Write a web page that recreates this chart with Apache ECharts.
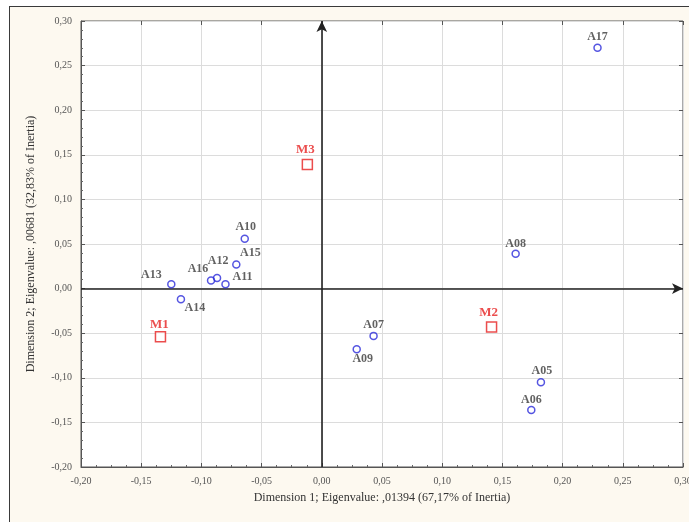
<!DOCTYPE html>
<html><head><meta charset="utf-8">
<script src="https://cdn.jsdelivr.net/npm/echarts@6/dist/echarts.min.js"></script>
<style>
html,body{margin:0;padding:0;background:#fff;width:689px;height:522px;overflow:hidden;}
#frame{position:absolute;left:9px;top:6px;width:700px;height:540px;border:1.5px solid #3a3a3a;background:#fdf9f0;}
#chart{position:absolute;left:0;top:0;width:689px;height:522px;}
</style></head>
<body>
<div id="frame"></div>
<div id="chart"></div>
<script>
// Data
const attrNames = ['A17','A10','A15','A12','A16','A11','A13','A14','A08','A07','A09','A05','A06'];
const attrX =     [0.229,-0.064,-0.071,-0.087,-0.092,-0.080,-0.125,-0.117,0.161,0.043,0.029,0.182,0.174];
const attrY =     [0.270, 0.056, 0.027, 0.012, 0.009, 0.005, 0.005,-0.012,0.039,-0.053,-0.068,-0.105,-0.136];
const sampleNames = ['M1','M2','M3'];
const sampleX =     [-0.134, 0.141, -0.012];
const sampleY =     [-0.054,-0.043, 0.139];
const xTicks = [-0.20,-0.15,-0.10,-0.05,0.00,0.05,0.10,0.15,0.20,0.25,0.30];
const yTicks = [-0.20,-0.15,-0.10,-0.05,0.00,0.05,0.10,0.15,0.20,0.25,0.30];

// label placement (styling, separate from data)
const attrLabelOffset = {
  A17:[0,-11], A10:[1,-12], A15:[14,-12], A12:[1,-17], A16:[-13,-12], A11:[17,-7],
  A13:[-20,-9], A14:[14,9], A08:[0,-10], A07:[0,-11], A09:[6,10], A05:[1,-11], A06:[0,-10]
};
const sampleLabelOffset = { M1:[-1,-12], M2:[-3,-14], M3:[-2,-15] };

const fmt = v => (Math.abs(v) < 1e-9 ? 0 : v).toFixed(2).replace('.', ',');
const serif = 'Liberation Serif';

const chart = echarts.init(document.getElementById('chart'), null, {renderer:'canvas'});

const attrData = attrNames.map((n,i)=>({
  value:[attrX[i], attrY[i]], name:n,
  label:{offset: attrLabelOffset[n]}
}));
const sampleData = sampleNames.map((n,i)=>({
  value:[sampleX[i], sampleY[i]], name:n,
  label:{offset: sampleLabelOffset[n]}
}));

const axisCommon = {
  type:'value', min:xTicks[0], max:xTicks[xTicks.length-1], interval:0.05
};

chart.setOption({
  backgroundColor:'transparent',
  animation:false,
  grid:{left:81, right:6, top:21, bottom:55, outerBoundsMode:'none', containLabel:false,
        show:true, backgroundColor:'#ffffff', borderColor:'#555', borderWidth:1},
  xAxis:[
    Object.assign({}, axisCommon, {
      position:'bottom',
      name:'Dimension 1; Eigenvalue: ,01394 (67,17% of Inertia)',
      nameLocation:'middle', nameGap:25,
      nameTextStyle:{fontFamily:serif, fontSize:12, color:'#333'},
      axisLine:{show:true, onZero:false, lineStyle:{color:'#555', width:1}},
      axisTick:{show:true, inside:true, length:4, lineStyle:{color:'#555'}},
      minorTick:{show:true, splitNumber:4, length:2, lineStyle:{color:'#666'}},
      axisLabel:{fontFamily:serif, fontSize:10, color:'#555', margin:9, formatter:fmt, hideOverlap:false},
      splitLine:{show:true, lineStyle:{color:'#dcdcdc', width:1}}
    }),
    Object.assign({}, axisCommon, {
      position:'top',
      axisLine:{show:false, onZero:false},
      axisTick:{show:true, inside:true, length:4, lineStyle:{color:'#555'}},
      axisLabel:{show:false}, splitLine:{show:false}
    })
  ],
  yAxis:[
    {
      type:'value', min:yTicks[0], max:yTicks[yTicks.length-1], interval:0.05,
      position:'left',
      name:'Dimension 2; Eigenvalue: ,00681 (32,83% of Inertia)',
      nameLocation:'middle', nameGap:44,
      nameTextStyle:{fontFamily:serif, fontSize:12, color:'#333'},
      axisLine:{show:true, onZero:false, lineStyle:{color:'#555', width:1}},
      axisTick:{show:true, inside:true, length:4, lineStyle:{color:'#555'}},
      minorTick:{show:true, splitNumber:5, length:2, lineStyle:{color:'#666'}},
      axisLabel:{fontFamily:serif, fontSize:10, color:'#555', margin:9, formatter:fmt},
      splitLine:{show:true, lineStyle:{color:'#dcdcdc', width:1}}
    },
    {
      type:'value', min:yTicks[0], max:yTicks[yTicks.length-1], interval:0.05,
      position:'right',
      axisLine:{show:false, onZero:false},
      axisTick:{show:true, inside:true, length:4, lineStyle:{color:'#555'}},
      axisLabel:{show:false}, splitLine:{show:false}
    }
  ],
  series:[
    {
      type:'scatter', name:'axes', data:[], silent:true,
      markLine:{
        silent:true, symbol:['none','arrow'], symbolSize:[8,11],
        lineStyle:{color:'#222', width:1.6, type:'solid'},
        label:{show:false},
        data:[
          [{coord:[0, yTicks[0]]},{coord:[0, yTicks[yTicks.length-1]]}],
          [{coord:[xTicks[0], 0]},{coord:[xTicks[xTicks.length-1], 0]}]
        ]
      }
    },
    {
      type:'scatter', name:'attributes', data:attrData,
      symbol:'circle', symbolSize:7,
      itemStyle:{color:'rgba(255,255,255,0)', borderColor:'#2b2bd9', borderWidth:1.5},
      label:{show:true, position:'inside', formatter:p=>p.name,
        fontFamily:serif, fontSize:12, fontWeight:'bold', color:'#3a3a3a'},
      z:5
    },
    {
      type:'scatter', name:'samples', data:sampleData,
      symbol:'rect', symbolSize:10,
      itemStyle:{color:'#ffffff', borderColor:'#e62020', borderWidth:1.5},
      label:{show:true, position:'inside', formatter:p=>p.name,
        fontFamily:serif, fontSize:13, fontWeight:'bold', color:'#e62020'},
      z:5
    }
  ]
});
</script>
</body></html>
